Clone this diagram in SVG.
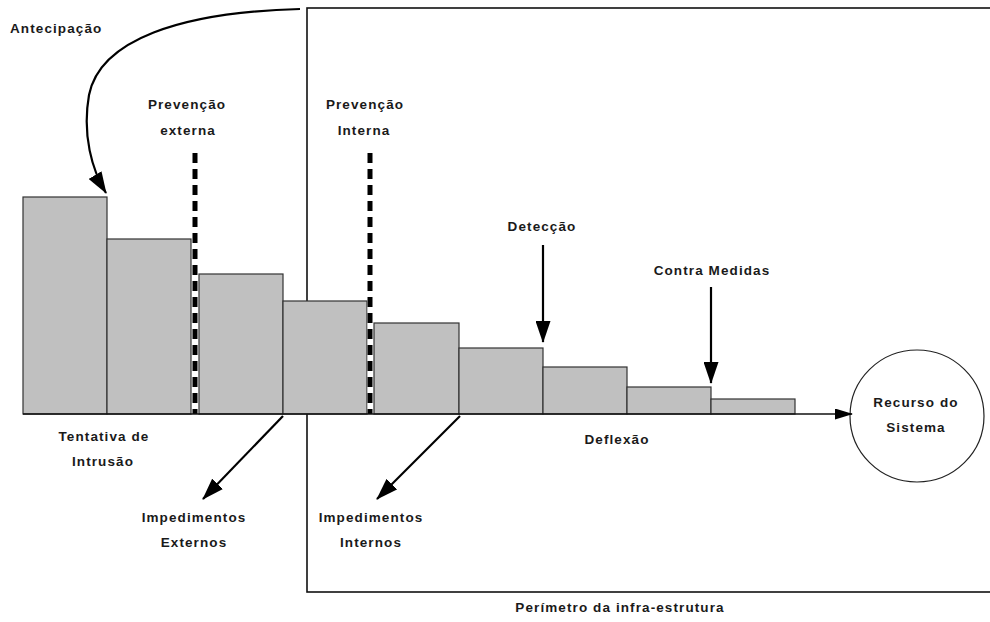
<svg xmlns="http://www.w3.org/2000/svg" width="990" height="622" viewBox="0 0 990 622">
  <style>
    text { font-family: "Liberation Sans", Arial, sans-serif; font-weight: bold; font-size: 13.5px; fill: #1a1a1a; letter-spacing: 1.1px; }
    .mid { text-anchor: middle; }
    .bar { fill: #c0c0c0; stroke: #333333; stroke-width: 1.2; }
    .arrow { fill: none; stroke: #000000; stroke-width: 2.2; }
    .barrier-bg { stroke: #ffffff; stroke-width: 5; }
    .barrier { stroke: #000000; stroke-width: 5; stroke-dasharray: 10 6; }
  </style>
  <defs>
    <marker id="head" viewBox="0 0 22 15" refX="21" refY="7.5" markerWidth="22" markerHeight="15" markerUnits="userSpaceOnUse" orient="auto">
      <path d="M0,0 L22,7.5 L0,15 z" fill="#000000"/>
    </marker>
    <marker id="headSmall" viewBox="0 0 18 11" refX="17" refY="5.5" markerWidth="18" markerHeight="11" markerUnits="userSpaceOnUse" orient="auto">
      <path d="M0,0 L18,5.5 L0,11 z" fill="#000000"/>
    </marker>
  </defs>

  <!-- infrastructure perimeter -->
  <g id="perimeter">
    <rect x="307" y="8" width="700" height="584" fill="none" stroke="#111111" stroke-width="1.6"/>
    <text class="mid" x="620" y="612">Perímetro da infra-estrutura</text>
  </g>

  <!-- attack strength bars, decreasing towards the resource -->
  <g id="bars">
    <rect class="bar" x="23" y="197" width="84" height="217"/>
    <rect class="bar" x="107" y="239" width="84" height="175"/>
    <rect class="bar" x="199" y="274" width="84" height="140"/>
    <rect class="bar" x="283" y="301" width="84" height="113"/>
    <rect class="bar" x="374" y="323" width="85" height="91"/>
    <rect class="bar" x="459" y="348" width="84" height="66"/>
    <rect class="bar" x="543" y="367" width="84" height="47"/>
    <rect class="bar" x="627" y="387" width="84" height="27"/>
    <rect class="bar" x="711" y="399" width="84" height="15"/>
  </g>

  <!-- prevention barriers -->
  <g id="prevencao-externa">
    <line class="barrier-bg" x1="195" y1="153" x2="195" y2="414"/>
    <line class="barrier" x1="195" y1="153" x2="195" y2="414"/>
    <text class="mid" x="187" y="109">Prevenção</text>
    <text class="mid" x="188" y="135">externa</text>
  </g>
  <g id="prevencao-interna">
    <line class="barrier-bg" x1="370" y1="153" x2="370" y2="414"/>
    <line class="barrier" x1="370" y1="153" x2="370" y2="414"/>
    <text class="mid" x="365" y="109">Prevenção</text>
    <text class="mid" x="364" y="135">Interna</text>
  </g>

  <!-- system resource -->
  <g id="recurso">
    <ellipse cx="917" cy="416" rx="67" ry="66" fill="#ffffff" stroke="#222222" stroke-width="1.2"/>
    <text class="mid" x="916" y="407">Recurso do</text>
    <text class="mid" x="916" y="432">Sistema</text>
  </g>

  <g id="labels">
    <text x="10" y="33">Antecipação</text>
    <text class="mid" x="542" y="231">Detecção</text>
    <text class="mid" x="712" y="275">Contra Medidas</text>
    <text class="mid" x="104" y="441">Tentativa de</text>
    <text class="mid" x="103" y="466">Intrusão</text>
    <text class="mid" x="617" y="444">Deflexão</text>
    <text class="mid" x="194" y="522">Impedimentos</text>
    <text class="mid" x="194" y="547">Externos</text>
    <text class="mid" x="371" y="522">Impedimentos</text>
    <text class="mid" x="371" y="547">Internos</text>
  </g>

  <!-- connectors -->
  <g id="connectors">
    <line x1="23" y1="414" x2="852" y2="414" stroke="#111111" stroke-width="1.3" marker-end="url(#headSmall)"/>
    <path class="arrow" d="M300,9 C180,12 100,40 89,95 C82,135 92,170 106,193" marker-end="url(#head)"/>
    <line class="arrow" x1="543" y1="245" x2="543" y2="342" marker-end="url(#head)"/>
    <line class="arrow" x1="711" y1="287" x2="711" y2="383" marker-end="url(#head)"/>
    <line class="arrow" x1="283" y1="416" x2="203" y2="499" marker-end="url(#head)"/>
    <line class="arrow" x1="460" y1="416" x2="377" y2="499" marker-end="url(#head)"/>
  </g>
</svg>
